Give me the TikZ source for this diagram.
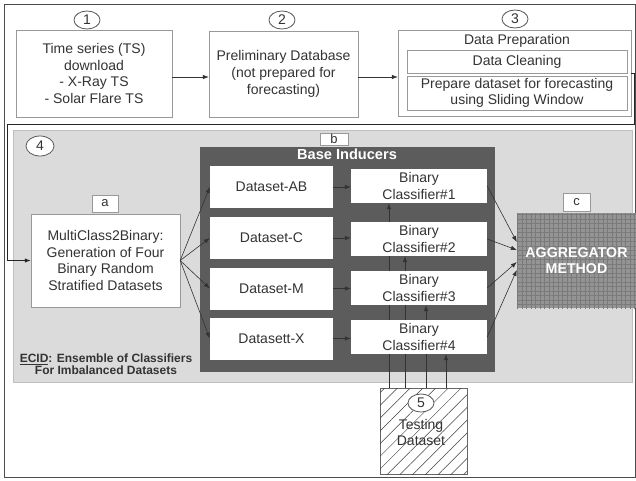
\documentclass[tikz,border=0pt]{standalone}
\usepackage{fontspec}
\setmainfont{Liberation Sans}
\usetikzlibrary{arrows.meta,shapes.geometric,patterns,patterns.meta,calc}
\pgfdeclarelayer{back}
\pgfdeclarelayer{mid}
\pgfsetlayers{back,mid,main}

\begin{document}
\begin{tikzpicture}[x=1pt, y=-1pt,
  font=\fontsize{14}{16.7}\selectfont,
  txt/.style={text=black!80, inner sep=0pt},
  box/.style={draw=black!40, fill=white, text=black!80, align=center, inner sep=0pt},
  dbox/.style={fill=white, text=black!80, align=center, inner sep=0pt, minimum width=123, minimum height=42},
  cbox/.style={fill=white, text=black!80, align=center, inner sep=0pt, minimum width=136, minimum height=34},
  tag/.style={draw=black!40, fill=white, text=black!80, inner sep=0pt, font=\fontsize{13}{13}\selectfont},
  num/.style={ellipse, draw=black!65, line width=0.8pt, fill=white, text=black!80, inner sep=0pt, minimum width=26, minimum height=18},
  arr/.style={draw=black!80, line width=0.6pt, -{Latex[length=6pt,width=4.5pt]}}]
\useasboundingbox (0,0) rectangle (636,480);
% --- frame and step 4 background ---
\begin{pgfonlayer}{back}
\draw[black!70, line width=1pt] (4,4) rectangle (635,477);
\node[draw=black!25, fill=black!14, inner sep=0pt, minimum width=619, minimum height=252] (ecid) at (322.5,256) {};
\node[fill=black!64, inner sep=0pt, minimum width=295, minimum height=225] (bi) at (347.5,259.5) {};
\end{pgfonlayer}
% --- steps 1 to 3 ---
\node[box, minimum width=156, minimum height=87] (ts) at (94,73.5) {Time series (TS)\\download\\- X-Ray TS\\- Solar Flare TS};
\node[box, minimum width=149, minimum height=86] (pdb) at (283.5,74) {Preliminary Database\\(not prepared for\\forecasting)};
\node[box, minimum width=233, minimum height=86] (prep) at (514.5,73.5) {};
\node[txt] (prept) at (517,41) {Data Preparation};
\node[box, minimum width=220, minimum height=23] (clean) at (517,61.5) {Data Cleaning};
\node[box, minimum width=220, minimum height=34] (slide) at (517,93) {Prepare dataset for forecasting\\using Sliding Window};
\node[num] (n1) at (87,20) {1};
\node[num] (n2) at (282,20) {2};
\node[num] (n3) at (515,19) {3};
\draw[arr] (ts.east |- 0,77) -- (pdb.west |- 0,77);
\draw[arr] (pdb.east |- 0,77) -- (prep.west |- 0,77);
% --- step 4: ECID ---
\node[num, minimum width=28, minimum height=20] (n4) at (40,146) {4};
\node[box, minimum width=149, minimum height=93] (mcb) at (105.5,260.5) {MultiClass2Binary:\\Generation of Four\\Binary Random\\Stratified Datasets};
\node[tag, minimum width=26, minimum height=17] (ta) at (105,203.5) {a};
\node[txt, font=\bfseries\fontsize{12}{12.3}\selectfont, align=center] (ecidt) at (106,364.5) {\underline{ECID}: Ensemble of Classifiers\\For Imbalanced Datasets};
\coordinate (cr) at (634,124);
\coordinate (cl) at (7,124);
\draw[arr, draw=black!85, line width=1pt] (prep.east) -| (cr) -- (cl) |- (mcb.west);
% --- (b) base inducers ---
\node[tag, minimum width=28, minimum height=12] (tb) at (334,139) {b};
\node[txt, text=white, font=\bfseries\fontsize{14.6}{15}\selectfont] (bit) at (347,154) {Base Inducers};
\node[dbox] (dab) at (271.5,187) {Dataset-AB};
\node[dbox] (dc) at (271.5,238) {Dataset-C};
\node[dbox] (dm) at (271.5,288.5) {Dataset-M};
\node[dbox] (dx) at (271.5,338.5) {Datasett-X};
\node[cbox] (c1) at (419,186) {Binary\\Classifier\#1};
\node[cbox] (c2) at (419,239) {Binary\\Classifier\#2};
\node[cbox] (c3) at (419,288) {Binary\\Classifier\#3};
\node[cbox] (c4) at (419,337) {Binary\\Classifier\#4};
\draw[arr] (mcb.east) -- (dab.west);
\draw[arr] (mcb.east) -- (dc.west);
\draw[arr] (mcb.east) -- (dm.west);
\draw[arr] (mcb.east) -- (dx.west);
\draw[arr] (dab.east) -- (dab.east -| c1.west);
\draw[arr] (dc.east) -- (dc.east -| c2.west);
\draw[arr] (dm.east) -- (dm.east -| c3.west);
\draw[arr] (dx.east) -- (dx.east -| c4.west);
% --- (c) aggregator ---
\node[fill=black!42, postaction={pattern={Hatch[angle=0,distance=4.5pt,line width=0.6pt]}, pattern color=black!52},
  text=white, align=center, inner sep=0pt, font=\bfseries\fontsize{14.2}{16}\selectfont,
  minimum width=119, minimum height=95] (agg) at (576.5,260.5) {AGGREGATOR\\METHOD};
\node[tag, minimum width=27, minimum height=18] (tc) at (576.5,202) {c};
\draw[arr] (c1.east) -- ($(agg.west)+(0,-18.5)$);
\draw[arr] (c2.east) -- ($(agg.west)+(0,-10.5)$);
\draw[arr] (c3.east) -- ($(agg.west)+(0,1.5)$);
\draw[arr] (c4.east) -- ($(agg.west)+(0,9.5)$);
% --- step 5: testing dataset ---
\node[draw=black!60, fill=white, postaction={pattern={Lines[angle=45,distance=9pt,line width=0.5pt]}, pattern color=black!75},
  inner sep=0pt, minimum width=87, minimum height=86] (tst) at (423.5,431) {};
\node[num] (n5) at (421,403) {5};
\node[txt, align=center] (tstt) at (421,432.5) {Testing\\Dataset};
\begin{pgfonlayer}{mid}
\draw[arr] (389,0 |- tst.north) -- (389,0 |- c1.south);
\draw[arr] (405,0 |- tst.north) -- (405,0 |- c2.south);
\draw[arr] (426,0 |- tst.north) -- (426,0 |- c3.south);
\draw[arr] (446,0 |- tst.north) -- (446,0 |- c4.south);
\end{pgfonlayer}
\end{tikzpicture}
\end{document}
